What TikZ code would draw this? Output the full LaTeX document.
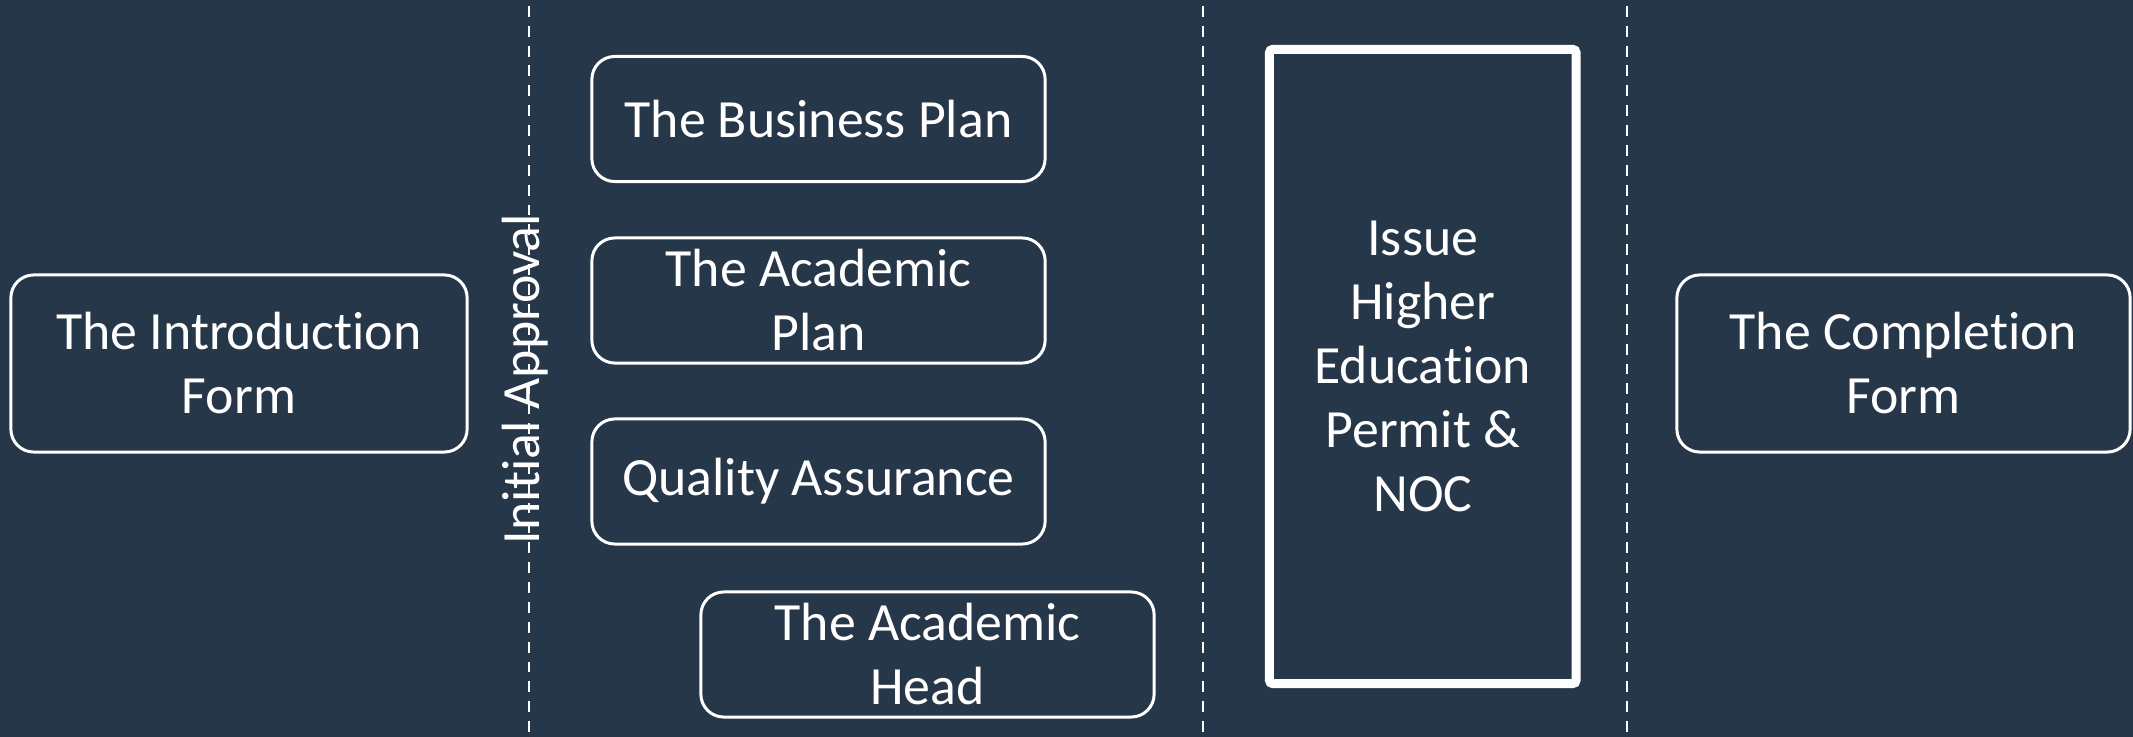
\documentclass[tikz,border=0pt]{standalone}
\usepackage{fontspec}
\setmainfont{Carlito}[Ligatures=NoCommon]
\usetikzlibrary{calc}
\definecolor{slate}{RGB}{39,55,74}

\begin{document}
\begin{tikzpicture}[x=0.01cm,y=-0.01cm,
    txt/.style={text=white,align=center,font=\fontsize{15.3}{18.2}\selectfont},
    stage/.style={txt,draw=white,line width=.85pt,rounded corners=6.5pt,inner sep=0pt,minimum width=4.53cm,minimum height=1.25cm},
    permit/.style={txt,draw=white,line width=2.55pt,rounded corners=1pt,inner sep=0pt,minimum width=3.065cm,minimum height=6.34cm}]
            \useasboundingbox (0,0) rectangle (2133,737);
            \fill[slate] (0,0) rectangle (2133,737);

            \foreach \x in {529,1203,1627} {
            \draw[line width=.57pt,white,dash pattern=on 3.1pt off 2.55pt,dash phase=3.98pt] (\x,0) coordinate (top\x) -- (\x,737) coordinate (bot\x);}

            \node[txt,rotate=90,anchor=base] (approval) at (539,379) {Initial Approval};

            \node[stage,minimum width=4.56cm,minimum height=1.77cm] (intro) at (239,363.5) {The Introduction\\Form};
            \node[stage] (bizplan) at (818.5,119) {The Business Plan};
            \node[stage] (acadplan) at (818.5,300.5) {The Academic\\Plan};
            \node[stage] (quality) at (818.5,481.5) {Quality Assurance};
            \node[stage] (acadhead) at (927.5,654.5) {The Academic\\Head};

            \node[permit] (issue) at (1422.75,366.5) {Issue\\Higher\\Education\\Permit \&\\NOC};

            \node[stage,minimum height=1.77cm] (completion) at (1903.5,363.5) {The Completion\\Form};
        \end{tikzpicture}
\end{document}
